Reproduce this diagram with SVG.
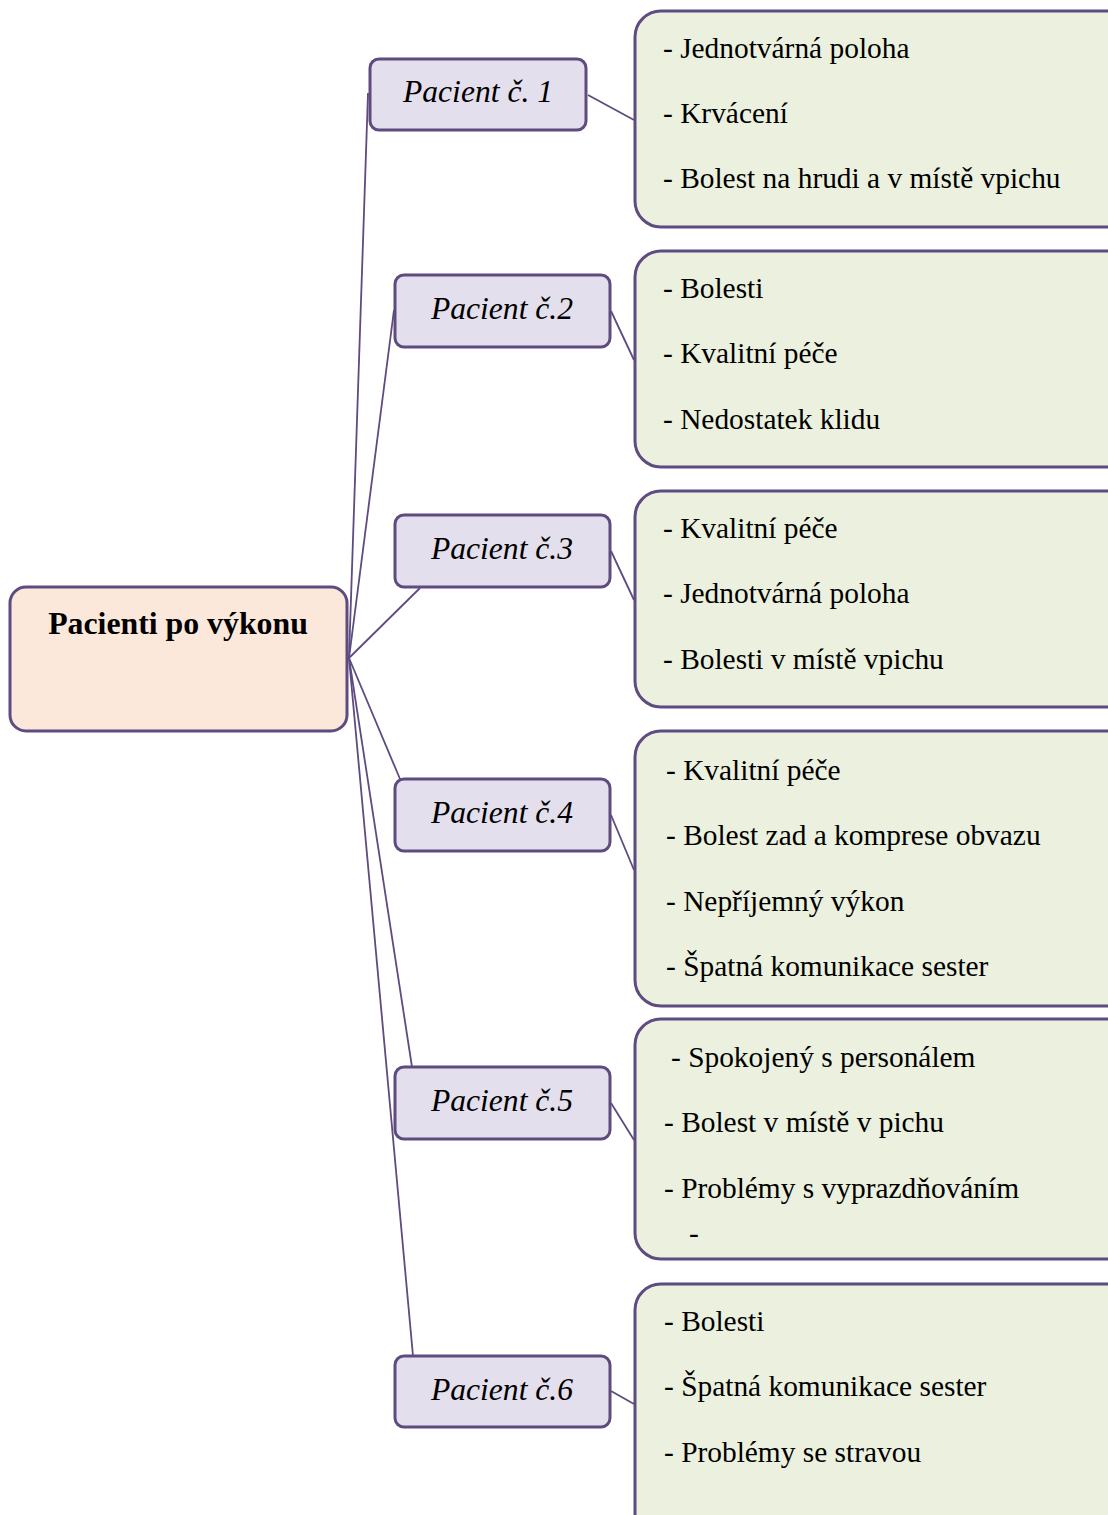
<svg xmlns="http://www.w3.org/2000/svg" width="1108" height="1515" viewBox="0 0 1108 1515">
  <style>
    .box { stroke: #5e4b7f; stroke-width: 3; }
    .root { fill: #fce8da; }
    .pat { fill: #e4dfec; }
    .note { fill: #ebf1de; }
    .conn line { stroke: #5e4b7f; stroke-width: 1.8; }
    .rt { font-family: "Liberation Serif", "Times New Roman", serif; font-weight: bold; font-size: 31.8px; fill: #000; }
    .pt { font-family: "Liberation Serif", "Times New Roman", serif; font-style: italic; font-size: 31.6px; fill: #000; }
    .nt { font-family: "Liberation Serif", "Times New Roman", serif; font-size: 29.4px; fill: #000; }
  </style>
  <rect width="1108" height="1515" fill="#ffffff"/>

  <!-- connectors -->
  <g id="connectors" class="conn">
    <line x1="349" y1="658" x2="368" y2="93"/>
    <line x1="349" y1="658" x2="394" y2="310"/>
    <line x1="349" y1="658" x2="420" y2="588"/>
    <line x1="349" y1="658" x2="400" y2="779"/>
    <line x1="349" y1="658" x2="412" y2="1067"/>
    <line x1="349" y1="658" x2="413" y2="1356"/>
    <line x1="588" y1="95" x2="634" y2="120"/>
    <line x1="611" y1="311" x2="634" y2="360"/>
    <line x1="611" y1="551" x2="634" y2="600"/>
    <line x1="611" y1="815" x2="634" y2="870"/>
    <line x1="611" y1="1103" x2="634" y2="1140"/>
    <line x1="611" y1="1391" x2="634" y2="1404"/>
  </g>

  <!-- root node -->
  <g id="root">
    <rect class="box root" x="10" y="587" width="337" height="144" rx="16"/>
    <text class="rt" x="178" y="634" text-anchor="middle">Pacienti po výkonu</text>
  </g>

  <!-- patient nodes -->
  <g id="patient1">
    <rect class="box pat" x="370" y="59" width="216" height="71" rx="9"/>
    <text class="pt" x="478" y="102" text-anchor="middle">Pacient č. 1</text>
  </g>
  <g id="patient2">
    <rect class="box pat" x="395" y="275" width="215" height="72" rx="9"/>
    <text class="pt" x="502" y="319" text-anchor="middle">Pacient č.2</text>
  </g>
  <g id="patient3">
    <rect class="box pat" x="395" y="515" width="215" height="72" rx="9"/>
    <text class="pt" x="502" y="559" text-anchor="middle">Pacient č.3</text>
  </g>
  <g id="patient4">
    <rect class="box pat" x="395" y="779" width="215" height="72" rx="9"/>
    <text class="pt" x="502" y="823" text-anchor="middle">Pacient č.4</text>
  </g>
  <g id="patient5">
    <rect class="box pat" x="395" y="1067" width="215" height="72" rx="9"/>
    <text class="pt" x="502" y="1111" text-anchor="middle">Pacient č.5</text>
  </g>
  <g id="patient6">
    <rect class="box pat" x="395" y="1356" width="215" height="71" rx="9"/>
    <text class="pt" x="502" y="1400" text-anchor="middle">Pacient č.6</text>
  </g>

  <!-- note nodes -->
  <g id="notes1">
    <rect class="box note" x="635" y="11" width="500" height="216" rx="26"/>
    <text class="nt" x="663" y="58">- Jednotvárná poloha</text>
    <text class="nt" x="663" y="123">- Krvácení</text>
    <text class="nt" x="663" y="188">- Bolest na hrudi a v místě vpichu</text>
  </g>
  <g id="notes2">
    <rect class="box note" x="635" y="251" width="500" height="216" rx="26"/>
    <text class="nt" x="663" y="298">- Bolesti</text>
    <text class="nt" x="663" y="363">- Kvalitní péče</text>
    <text class="nt" x="663" y="429">- Nedostatek klidu</text>
  </g>
  <g id="notes3">
    <rect class="box note" x="635" y="491" width="500" height="216" rx="26"/>
    <text class="nt" x="663" y="538">- Kvalitní péče</text>
    <text class="nt" x="663" y="603">- Jednotvárná poloha</text>
    <text class="nt" x="663" y="669">- Bolesti v místě vpichu</text>
  </g>
  <g id="notes4">
    <rect class="box note" x="635" y="731" width="500" height="275" rx="26"/>
    <text class="nt" x="666" y="780">- Kvalitní péče</text>
    <text class="nt" x="666" y="845">- Bolest zad a komprese obvazu</text>
    <text class="nt" x="666" y="911">- Nepříjemný výkon</text>
    <text class="nt" x="666" y="976">- Špatná komunikace sester</text>
  </g>
  <g id="notes5">
    <rect class="box note" x="635" y="1019" width="500" height="240" rx="26"/>
    <text class="nt" x="671" y="1067">- Spokojený s personálem</text>
    <text class="nt" x="664" y="1132">- Bolest v místě v pichu</text>
    <text class="nt" x="664" y="1198">- Problémy s vyprazdňováním</text>
    <text class="nt" x="689" y="1243" font-size="7px">-</text>
  </g>
  <g id="notes6">
    <rect class="box note" x="635" y="1284" width="500" height="260" rx="26"/>
    <text class="nt" x="664" y="1331">- Bolesti</text>
    <text class="nt" x="664" y="1396">- Špatná komunikace sester</text>
    <text class="nt" x="664" y="1462">- Problémy se stravou</text>
  </g>
</svg>
